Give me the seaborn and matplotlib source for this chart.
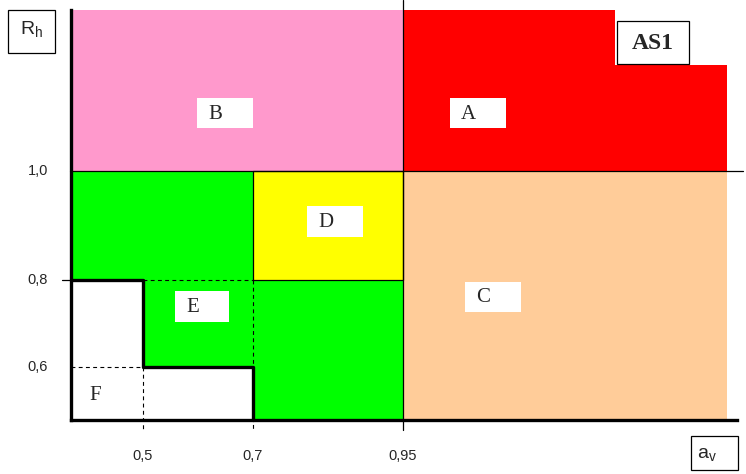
import numpy as np
import matplotlib
matplotlib.use("Agg")
import matplotlib.pyplot as plt
from matplotlib.patches import Rectangle
import seaborn as sns

# Axis values (av horizontal, Rh vertical) of the schematic
AV_BREAKS = [0.40, 0.50, 0.70, 0.95, 1.15, 1.30]
RH_BREAKS = [0.50, 0.60, 0.80, 1.00, 1.20, 1.30]

X_TICKS = [0.5, 0.7, 0.95]
X_TICK_LABELS = ["0,5", "0,7", "0,95"]
Y_TICKS = [1.0, 0.8, 0.6]
Y_TICK_LABELS = ["1,0", "0,8", "0,6"]

# Region outlines
A_AV = [0.95, 0.95, 1.15, 1.15, 1.30, 1.30]
A_RH = [1.00, 1.30, 1.30, 1.20, 1.20, 1.00]
B_AV = [0.40, 0.40, 0.95, 0.95]
B_RH = [1.00, 1.30, 1.30, 1.00]
C_AV = [0.95, 0.95, 1.30, 1.30]
C_RH = [0.50, 1.00, 1.00, 0.50]
D_AV = [0.70, 0.70, 0.95, 0.95, 0.70]
D_RH = [0.80, 1.00, 1.00, 0.80, 0.80]
E_AV = [0.40, 0.70, 0.70, 0.95, 0.95, 0.70, 0.70, 0.50, 0.50, 0.40]
E_RH = [1.00, 1.00, 0.80, 0.80, 0.50, 0.50, 0.60, 0.60, 0.80, 0.80]
F_AV = [0.40, 0.50, 0.50, 0.70, 0.70]
F_RH = [0.80, 0.80, 0.60, 0.60, 0.50]


def piecewise(src, dst):
    src = np.asarray(src, float)
    dst = np.asarray(dst, float)

    def f(v):
        v = np.asarray(v, float)
        out = np.interp(v, src, dst)
        lo = dst[0] + (v - src[0]) * (dst[1] - dst[0]) / (src[1] - src[0])
        hi = dst[-1] + (v - src[-1]) * (dst[-1] - dst[-2]) / (src[-1] - src[-2])
        out = np.where(v < src[0], lo, out)
        out = np.where(v > src[-1], hi, out)
        return out
    return f


def create_chart():
    sns.set_theme(style="white")
    plt.rcParams['font.family'] = ['Liberation Sans', 'DejaVu Sans']

    W, H = 746, 474
    fig = plt.figure(figsize=(W / 100, H / 100), dpi=100, facecolor='white')

    # schematic (non-linear) placement of the axis values, in pixels
    av_px = [71, 143, 253, 403, 615, 727]
    rh_px = [H - p for p in [420, 367, 280, 171, 65, 10]]
    fx, ix = piecewise(AV_BREAKS, av_px), piecewise(av_px, AV_BREAKS)
    fy, iy = piecewise(RH_BREAKS, rh_px), piecewise(rh_px, RH_BREAKS)

    ax = fig.add_axes([0, 0, 1, 1])
    ax.set_xscale('function', functions=(fx, ix))
    ax.set_yscale('function', functions=(fy, iy))
    ax.set_xlim(float(ix(0)), float(ix(W)))
    ax.set_ylim(float(iy(0)), float(iy(H)))
    ax.axis('off')

    # coloured regions
    ax.fill(B_AV, B_RH, color='#FF99CC', lw=0, zorder=1)
    ax.fill(A_AV, A_RH, color='#FF0000', lw=0, zorder=1)
    ax.fill(C_AV, C_RH, color='#FFCC99', lw=0, zorder=1)
    ax.fill(E_AV, E_RH, color='#00FF00', lw=0, zorder=1)
    ax.fill(D_AV, D_RH, color='#FFFF00', lw=0, zorder=1)
    ax.plot(D_AV, D_RH, color='black', lw=0.9, zorder=2)

    # thin guide lines
    ax.axvline(0.95, ymin=(H - 430) / H, ymax=1, color='black', lw=0.9, zorder=2)
    ax.axhline(1.0, xmin=70 / W, xmax=743 / W, color='black', lw=0.9, zorder=2)
    ax.plot([0.388, 0.4], [0.8, 0.8], color='black', lw=0.9, zorder=2)

    dash = dict(color='black', lw=0.8, ls=(0, (3.5, 3)), zorder=2)
    ax.plot([0.5, 0.5], [0.6, 0.481], **dash)
    ax.plot([0.7, 0.7], [0.8, 0.481], **dash)
    ax.plot([0.5, 0.7], [0.8, 0.8], **dash)
    ax.plot([0.4, 0.5], [0.6, 0.6], **dash)

    # thick frame and F boundary
    sns.lineplot(x=F_AV, y=F_RH, sort=False, estimator=None, color='black',
                 lw=2.4, ax=ax, zorder=3)
    ax.plot([0.4, 0.4], [0.5, 1.3], color='black', lw=2.4, zorder=3,
            solid_capstyle='projecting')
    ax.plot([0.4, 1.313], [0.5, 0.5], color='black', lw=2.4, zorder=3,
            solid_capstyle='projecting')

    # tick labels
    for v, t in zip(X_TICKS, X_TICK_LABELS):
        ax.text(v, (H - 456) / H, t, transform=ax.get_xaxis_transform(),
                ha='center', va='center', fontsize=10.5)
    for v, t in zip(Y_TICKS, Y_TICK_LABELS):
        ax.text(38 / W, v, t, transform=ax.get_yaxis_transform(),
                ha='center', va='center', fontsize=10.5)

    # overlay in pixel units for the label boxes
    lay = fig.add_axes([0, 0, 1, 1])
    lay.set_xlim(0, W)
    lay.set_ylim(H, 0)
    lay.axis('off')
    lay.patch.set_alpha(0)

    serif = ['Liberation Serif', 'DejaVu Serif']
    for name, x0, y0, w, h in [("B", 197, 98, 56, 30), ("A", 450, 98, 56, 30),
                               ("D", 307, 206, 56, 31), ("C", 465, 282, 56, 30),
                               ("E", 175, 291, 54, 31)]:
        lay.add_patch(Rectangle((x0, y0), w, h, facecolor='white', lw=0, zorder=4))
        lay.text(x0 + 11, y0 + h / 2 + 1, name, family=serif, fontsize=15,
                 ha='left', va='center', zorder=5)
    lay.text(89, 396, "F", family=serif, fontsize=15, ha='left', va='center')

    lay.add_patch(Rectangle((617, 21), 72, 43, facecolor='white',
                            edgecolor='black', lw=0.9, zorder=4))
    lay.text(653, 43, "AS1", family=serif, fontsize=17, fontweight='bold',
             ha='center', va='center', zorder=5)

    lay.add_patch(Rectangle((8, 10), 47, 43, facecolor='white',
                            edgecolor='black', lw=0.9, zorder=4))
    lay.text(20, 35, r"R$_\mathregular{h}$", fontsize=14, ha='left',
             va='baseline', zorder=5)
    lay.add_patch(Rectangle((691, 436), 47, 34, facecolor='white',
                            edgecolor='black', lw=0.9, zorder=4))
    lay.text(697, 459, r"a$_\mathregular{v}$", fontsize=14, ha='left',
             va='baseline', zorder=5)

    fig.savefig('out.png', dpi=100, facecolor='white')
    plt.close(fig)


if __name__ == "__main__":
    create_chart()
